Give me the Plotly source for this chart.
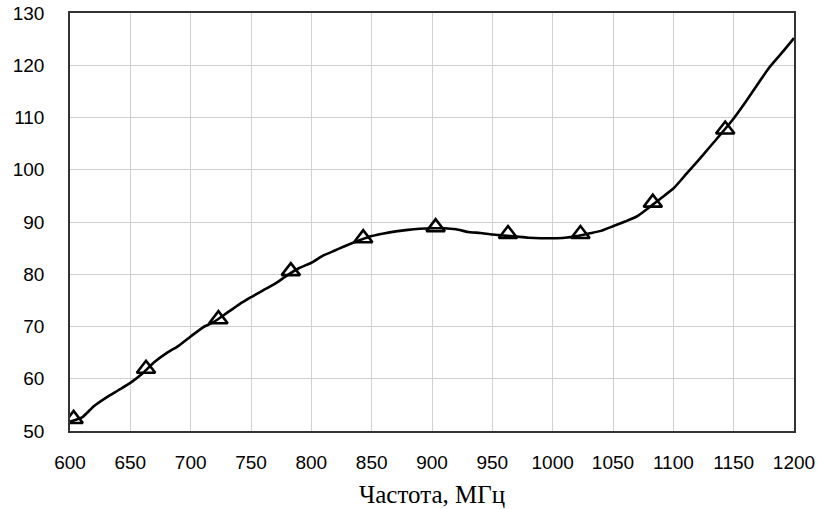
import plotly.graph_objects as go

freq = [600, 610, 620, 630, 640, 650, 660, 670, 680, 690, 700, 710, 720, 730, 740,
        750, 760, 770, 780, 790, 800, 810, 820, 830, 840, 850, 860, 870, 880, 890,
        900, 910, 920, 930, 940, 950, 960, 970, 980, 990, 1000, 1010, 1020, 1030,
        1040, 1050, 1060, 1070, 1080, 1090, 1100, 1110, 1120, 1130, 1140, 1150,
        1160, 1170, 1180, 1190, 1200]
values = [51.8, 52.6, 54.8, 56.4, 57.8, 59.2, 61.0, 63.2, 64.9, 66.3, 68.1, 69.8,
          71.0, 72.6, 74.2, 75.6, 76.9, 78.2, 79.8, 81.2, 82.2, 83.6, 84.6, 85.6,
          86.5, 87.3, 87.8, 88.2, 88.5, 88.7, 88.8, 88.8, 88.6, 88.1, 87.9, 87.6,
          87.4, 87.2, 87.0, 86.9, 86.9, 87.0, 87.3, 87.8, 88.3, 89.2, 90.1, 91.1,
          92.8, 94.6, 96.4, 99.0, 101.6, 104.3, 107.0, 109.8, 113.0, 116.4, 119.7,
          122.4, 125.2]

marker_freq = [603, 663, 723, 783, 843, 903, 963, 1023, 1083, 1143]
marker_vals = [52.3, 61.9, 71.4, 80.6, 86.9, 89.0, 87.7, 87.7, 93.7, 107.7]

x_ticks = [600, 650, 700, 750, 800, 850, 900, 950, 1000, 1050, 1100, 1150, 1200]
y_ticks = [50, 60, 70, 80, 90, 100, 110, 120, 130]
x_title = "Частота, МГц"

fig = go.Figure()
fig.add_trace(go.Scatter(x=freq, y=values, mode="lines",
                         line=dict(color="black", width=2.6, shape="spline", smoothing=0.6),
                         showlegend=False))
fig.add_trace(go.Scatter(x=marker_freq, y=marker_vals, mode="markers",
                         marker=dict(symbol="triangle-up-open", size=16,
                                     color="black", line=dict(width=2.6, color="black")),
                         showlegend=False))

fig.update_layout(
    width=817, height=509,
    margin=dict(l=70, r=23, t=13, b=78),
    plot_bgcolor="white", paper_bgcolor="white",
    font=dict(family="Arial, Liberation Sans", size=19, color="black"),
)
fig.update_xaxes(range=[600, 1200], tickvals=x_ticks, showgrid=True,
                 gridcolor="#d0d0d0", gridwidth=1.2, showline=True,
                 linecolor="#333333", linewidth=1.5, mirror=True, ticks="",
                 ticklabelstandoff=13, zeroline=False, automargin=False,
                 title=dict(text=x_title, font=dict(family="Liberation Serif, Times New Roman",
                                                    size=25, color="black"), standoff=14))
fig.update_yaxes(range=[50, 130], tickvals=y_ticks, showgrid=True,
                 gridcolor="#d0d0d0", gridwidth=1.2, showline=True,
                 linecolor="#333333", linewidth=1.5, mirror=True, ticks="",
                 ticklabelstandoff=20, zeroline=False, automargin=False)

fig.write_html("out.html", config={"displayModeBar": False},
               post_script="document.body.style.margin='0';document.body.style.overflow='hidden';")
